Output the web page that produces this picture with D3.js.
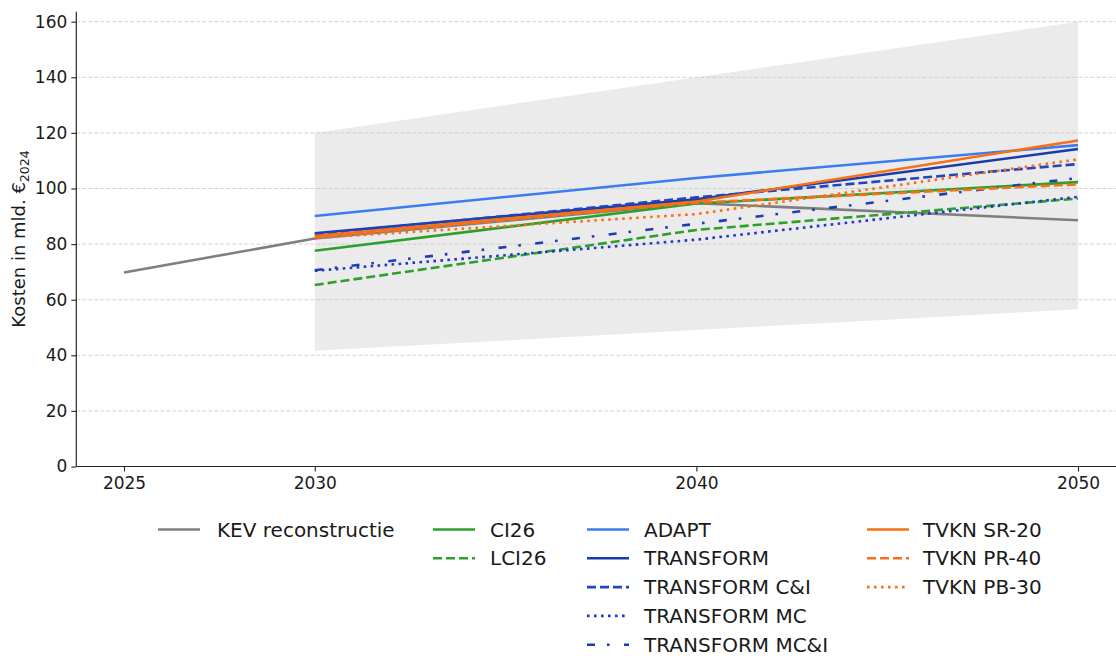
<!DOCTYPE html>
<html>
<head>
<meta charset="utf-8">
<script src="https://cdn.jsdelivr.net/npm/d3@7"></script>
<style>
  html, body { margin: 0; padding: 0; background: #fff; }
  svg { display: block; font-family: "DejaVu Sans", sans-serif; }
</style>
</head>
<body>
<svg id="chart" width="1116" height="656"></svg>
<script>
// ---- data ----
const years = [2030, 2040, 2050];
const kevYears = [2025, 2030, 2040, 2050];
const kev = [69.8, 82.0, 94.7, 88.6];
const ci26 = [77.6, 94.6, 102.3];
const lci26 = [65.3, 85.1, 96.4];
const adapt = [90.1, 103.8, 115.6];
const transform = [83.9, 96.1, 114.2];
const transformCI = [83.5, 96.8, 108.8];
const transformMC = [70.4, 81.6, 97.0];
const transformMCI = [70.6, 87.3, 103.8];
const tvknSR20 = [82.9, 95.3, 117.3];
const tvknPR40 = [82.4, 94.9, 101.5];
const tvknPB30 = [82.2, 90.8, 110.5];
const bandYears = [2030, 2050];
const bandLower = [41.6, 56.6];
const bandUpper = [120.0, 160.0];
const xTicks = [2025, 2030, 2040, 2050];
const yTicks = [0, 20, 40, 60, 80, 100, 120, 140, 160];

const series = [
  {name: "KEV reconstructie", x: kevYears, y: kev, color: "#7f7f7f", dash: null},
  {name: "CI26", x: years, y: ci26, color: "#2ca02c", dash: null},
  {name: "LCI26", x: years, y: lci26, color: "#2ca02c", dash: "9,4"},
  {name: "ADAPT", x: years, y: adapt, color: "#3b7cf2", dash: null},
  {name: "TRANSFORM", x: years, y: transform, color: "#1a3cab", dash: null},
  {name: "TRANSFORM C&I", x: years, y: transformCI, color: "#1f45c0", dash: "9,4"},
  {name: "TRANSFORM MC", x: years, y: transformMC, color: "#2234cc", dash: "2.6,4.4"},
  {name: "TRANSFORM MC&I", x: years, y: transformMCI, color: "#1e3db5", dash: "8,12,2.6,14.4"},
  {name: "TVKN SR-20", x: years, y: tvknSR20, color: "#fa6e14", dash: null},
  {name: "TVKN PR-40", x: years, y: tvknPR40, color: "#fa6e14", dash: "9,4"},
  {name: "TVKN PB-30", x: years, y: tvknPB30, color: "#fa6e14", dash: "2.6,4.4"}
];

// ---- layout ----
const svg = d3.select("#chart");
const x = d3.scaleLinear().domain([2023.75, 2051.25]).range([76.3, 1125.7]);
const y = d3.scaleLinear().domain([0, 163.6]).range([466.5, 11.7]);
const lw = 2.6;
const textColor = "#1a1a1a";

svg.append("rect").attr("width", 1116).attr("height", 656).attr("fill", "#fff");

// band
const bandData = bandYears.map((yr, i) => ({x: yr, lo: bandLower[i], hi: bandUpper[i]}));
svg.append("path")
  .datum(bandData)
  .attr("d", d3.area().x(d => x(d.x)).y0(d => y(d.lo)).y1(d => y(d.hi)))
  .attr("fill", "#d8d8d8").attr("fill-opacity", 0.5);

// grid
svg.append("g").selectAll("line").data(yTicks.filter(t => t > 0)).join("line")
  .attr("x1", x.range()[0]).attr("x2", x.range()[1])
  .attr("y1", d => y(d)).attr("y2", d => y(d))
  .attr("stroke", "#c8c8c8").attr("stroke-width", 0.8)
  .attr("stroke-dasharray", "4,2");

// lines
const line = d3.line().x(d => x(d[0])).y(d => y(d[1]));
series.forEach(s => {
  const pts = s.x.map((xx, i) => [xx, s.y[i]]);
  svg.append("path").datum(pts)
    .attr("d", line)
    .attr("fill", "none")
    .attr("stroke", s.color)
    .attr("stroke-width", lw)
    .attr("stroke-dasharray", s.dash)
    .attr("stroke-linejoin", "round");
});

// axes
const yAxis = svg.append("g").attr("transform", `translate(${x.range()[0]},0)`)
  .call(d3.axisLeft(y).tickValues(yTicks).tickSize(5).tickPadding(4).tickFormat(d3.format("d")));
const xAxis = svg.append("g").attr("transform", `translate(0,${y(0)})`)
  .call(d3.axisBottom(x).tickValues(xTicks).tickSize(5).tickPadding(5).tickFormat(d3.format("d")));
[yAxis, xAxis].forEach(a => {
  a.select(".domain").attr("stroke", "#262626").attr("stroke-width", 1.2);
  a.selectAll(".tick line").attr("stroke", "#262626").attr("stroke-width", 1.1);
  a.selectAll(".tick text").attr("fill", textColor).style("font-size", "17px")
    .style("font-family", "DejaVu Sans, sans-serif");
});
yAxis.select(".domain").attr("d", `M0,${y.range()[1]}V${y.range()[0]}`);
xAxis.select(".domain").attr("d", `M${x.range()[0]},0H${x.range()[1]}`);

// y label
const yl = svg.append("text")
  .attr("transform", "translate(25,239) rotate(-90)")
  .attr("text-anchor", "middle")
  .attr("fill", textColor)
  .style("font-size", "18px");
yl.append("tspan").text("Kosten in mld. €");
yl.append("tspan").text("2024").style("font-size", "12.5px").attr("dy", 4);

// legend
const legendCols = [
  {hx: 158, tx: 217, items: [0]},
  {hx: 433, tx: 490, items: [1, 2]},
  {hx: 587, tx: 644, items: [3, 4, 5, 6, 7]},
  {hx: 867, tx: 923, items: [8, 9, 10]}
];
const rowY0 = 529.5, rowDy = 28.8;
const lg = svg.append("g");
legendCols.forEach(col => {
  col.items.forEach((idx, r) => {
    const s = series[idx];
    const yy = rowY0 + r * rowDy;
    lg.append("line")
      .attr("x1", col.hx).attr("x2", col.hx + 42)
      .attr("y1", yy).attr("y2", yy)
      .attr("stroke", s.color).attr("stroke-width", lw)
      .attr("stroke-dasharray", s.dash);
    lg.append("text")
      .attr("x", col.tx).attr("y", yy + 7)
      .attr("fill", textColor)
      .style("font-size", "20px")
      .text(s.name);
  });
});
</script>
</body>
</html>
